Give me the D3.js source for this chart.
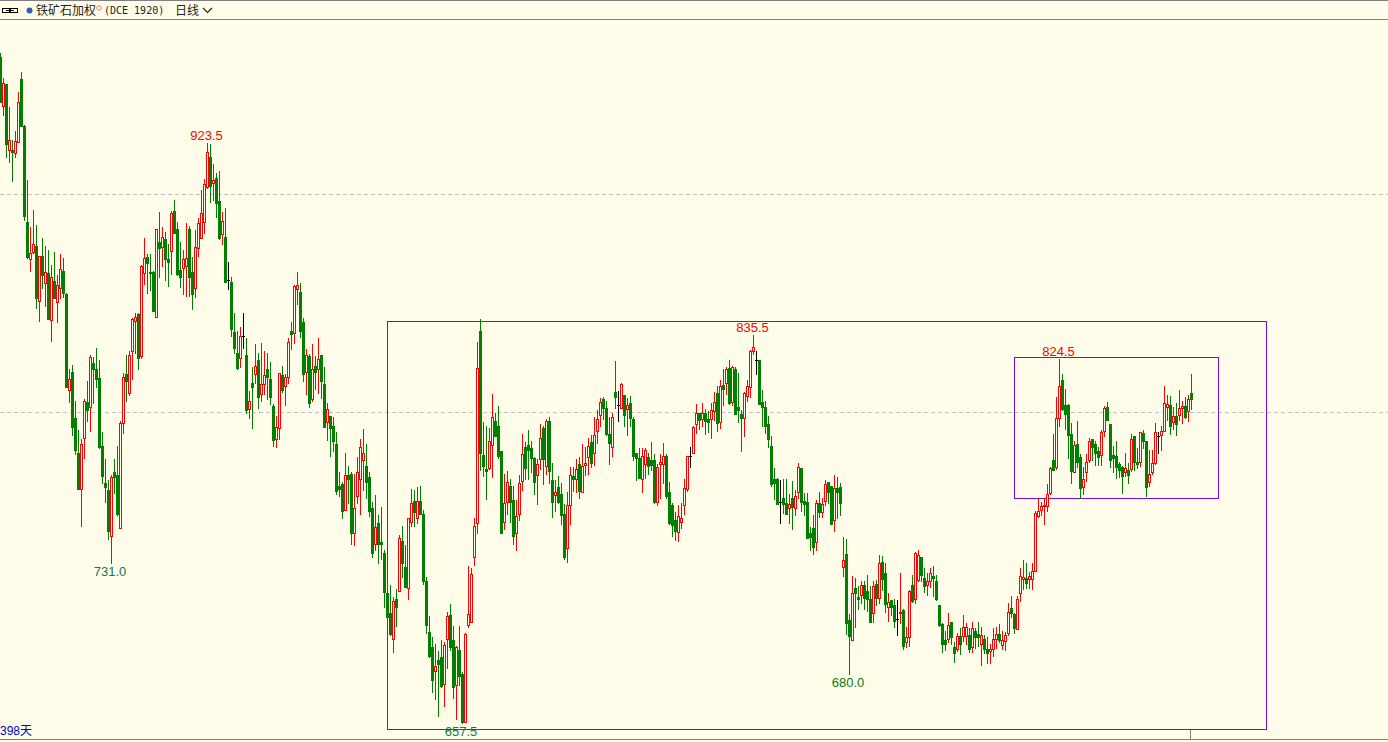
<!DOCTYPE html>
<html>
<head>
<meta charset="utf-8">
<title>铁矿石加权</title>
<script src="https://cdn.jsdelivr.net/npm/d3@7/dist/d3.min.js"></script>
<style>
html, body { margin: 0; padding: 0; background: #fffde9; overflow: hidden; }
svg { display: block; }
</style>
</head>
<body>
<div id="chart"></div>
<script>
// daily bars (10 per row)
const opens = [
963,940.5,950.5,920.5,920.5,919,924,953,931.5,887.5,
870.5,873.5,876.5,851,872,859.5,864,842.5,860.5,850.5,
857,865,854.5,810.5,818.5,797.5,781.5,765,788.5,805,
802.5,822.5,820,816,784.5,767.5,764.5,743.5,772.5,771.5,
747,795,817.5,809,828,842,845,826,864,871.5,
864.5,864.5,844,878,876,879.5,870.5,874,892.5,884,
865.5,866.5,867,884,864.5,857,875.5,880,887.5,903.5,
917,905.5,907.5,897,882,880.5,861,860,837,827.5,
825,835,826.5,801.5,813.5,817.5,824,808.5,813,820,
815.5,803,788,793,817,812,816.5,837.5,836.5,856.5,
855.5,841.5,818.5,826,806,821.5,820,826.5,813,795.5,
798.5,794,785.5,766.5,767,755.5,771.5,772,744.5,761.5,
769.5,778,775.5,770.5,756,739.5,749.5,740.5,735.5,717,
708,696,714.5,718,741,729,719.5,750,759.5,751.5,
759.5,753.5,722.5,699.5,692.5,681.5,686.5,688,675.5,696,
707,695.5,675,691,680,658,702.5,704,733.5,749.5,
837.5,780.5,774,774.5,785,796,794,782.5,750,759,
766.5,760,744.5,753.5,768.5,784,785,783.5,779,771.5,
778.5,793,775.5,796,769,762,766,762.5,753.5,738,
757.5,771,769.5,776.5,763.5,776,779.5,786.5,781.5,791.5,
799,806,802,790,784,809.5,803.5,802,808,801.5,
804.5,797,781.5,779,769.5,776.5,779.5,778,778,759,
776.5,776.5,780,763.5,757.5,750.5,745,750,757.5,765,
780,781.5,794.5,800,797,800,797,797,800.5,809,
795.5,812.5,813.5,820.5,805,820,802.5,799.5,797.5,807.5,
811.5,828,824,824,805,802.5,794.5,784.5,769.5,769.5,
759,761,758.5,756,761,756,763.5,774.5,759.5,759,
744.5,747,740.5,758.5,754.5,759.5,768,766.5,750.5,765.5,
766,729,735,705,695.5,719.5,715.5,716.5,721,718,
714.5,708,721.5,715,731.5,726.5,711,714,711.5,705.5,
708,709.5,694.5,697,721,714.5,723,733.5,724,721,
722.5,725,722.5,711.5,703,695.5,696,704,692.5,691.5,
697.5,697.5,697.5,698,692.5,700,698.5,694,696,691.5,
690.5,691.5,696,698.5,693.5,695,699,710.5,707.5,700.5,
717,723.5,724,723.5,723.5,727.5,752.5,755.5,757,757,
763,778,775,797.5,815,803.5,803.5,790,772.5,785.5,
779.5,766,772.5,778,788,785.5,782.5,780.5,791.5,802.5,
794.5,780.5,780,776.5,775,772.5,773.5,774,789,777.5,
777.5,790.5,787,768,772.5,777,789,789.5,791.5,802.5,
803.5,795.5,798.5,799,802,803,800.5,809
];
const highs = [
965,953.5,950.5,940,925,929,947,956,932,906.5,
885,893,886,872,880,876.5,874.5,867.5,873.5,863,
872.5,871,855,820,822,805.5,792,788,806,814.5,
826.5,825.5,829.5,824,791,778.5,769,771.5,778.5,784.5,
796,818,826.5,828,843.5,845.5,845.5,867.5,880,872.5,
872.5,865,884,892,885,883,877.5,892.5,897.5,887.5,
878,874.5,887,885.5,871.5,883.5,889,902,907,923.5,
923,914,910,911,892,894,869,862,845.5,837.5,
839,845.5,834,810,821,831.5,827.5,832,828,827.5,
823,804,798.5,818,821.5,817.5,834,841.5,858.5,864.5,
859.5,843.5,829,827,831.5,826,834,826.5,821,804.5,
798.5,798,791,772.5,768,781.5,775.5,772.5,772,779.5,
788,792.5,785.5,772.5,759,762,753,756.5,737,721,
721,715.5,719,744,748,739,751.5,765,764.5,766,
766.5,755.5,724.5,706.5,697,694,690.5,695.5,694.5,708.5,
712,702,693,702,681,699,729.5,728.5,751.5,832.5,
843,795.5,794,793,808.5,800,803,782.5,772,773,
769.5,766.5,760,771.5,790,786.5,792,787,779.5,778.5,
794.5,794,797,798,777,769,771,767.5,758,763.5,
775,775,778.5,779.5,785.5,784,788.5,789.5,798,801,
806.5,807,805.5,798,800,823.5,810,813.5,808,806.5,
807.5,798,781.5,783.5,783.5,783.5,781.5,786.5,781,776.5,
781,786,781,768,758.5,754.5,757.5,758.5,769.5,780,
784,794,804,800,804.5,801.5,800.5,804.5,809.5,812,
815,820,821,824,821.5,821,818,801,809.5,815,
828.5,835.5,828,824,810.5,805.5,798.5,789,774.5,770,
769,769.5,769.5,762.5,768.5,764.5,777,774.5,763,763,
747.5,753,760,763.5,761,769,768,766.5,771.5,770.5,
767.5,743,742,707.5,725,724,720.5,722.5,722.5,725.5,
720.5,722.5,723,734.5,734,731,717,714,714.5,714,
726.5,710,701.5,718.5,725.5,736,737,733.5,728.5,726.5,
728.5,729.5,725.5,711.5,703.5,700,708,704,694.5,699,
701,707,703.5,701,704,701,704,701.5,698,697,
694,701,701.5,703,700,699.5,712.5,716,708,716,
728.5,732.5,731,727,731,755,761,759,761,767,
775,790,807,824.5,817.5,811,804,795,787,796,
781,775,781,788.5,788,787,784,792,803,805,
794.5,784.5,787,777.5,775.5,781.5,777,790,789,783.5,
791,792,787,783,783,795,791,794,812,808,
807.5,802.5,804.5,810.5,805.5,807,808,817.5
];
const lows = [
942.5,936.5,917,915,906,917,924,931.5,888.5,871,
865,873,848,842,857,849,843,833,852.5,841.5,
852.5,853,811.5,805,789.5,781,765,748,779,796,
791.5,804.5,811.5,783.5,767.5,759,742,731,763,753,
747,790.5,805.5,808,815.5,827.5,820,825,859,855,
856,846.5,844,862,867,861,858,863.5,882.5,863,
857.5,854.5,853.5,853.5,847.5,853,872,880,882.5,903,
896.5,897.5,889.5,879.5,877.5,860,856.5,835,827.5,820,
821,829.5,800,797.5,793,813.5,802,805.5,808.5,806,
804,784.5,784,788,809.5,803.5,813.5,829,832,850,
834.5,814.5,808.5,802.5,805.5,811,809,806.5,793.5,787.5,
780,782.5,762.5,761.5,751.5,755.5,758.5,739.5,739,758.5,
753.5,764.5,761,752.5,733.5,737,731,733,711,702.5,
698,690,702,718,724.5,720,714.5,748,748,749.5,
753.5,721.5,699,688,672,668.5,661,674,665.5,683,
691,669,659.5,675,657.5,658,701.5,704,730,744.5,
773.5,771,760.5,774,770.5,789,779,744.5,746.5,753.5,
750,739.5,737,750.5,764.5,769.5,769.5,772.5,762.5,758,
774,767,772,767.5,752,755,758.5,749,733,731.5,
749,764,763.5,761,763.5,771.5,772,775,776,786,
794,797,789.5,776.5,780,802,796,802,794,789.5,
794,778,769,770,763.5,770,772,773.5,758.5,757.5,
761,767.5,761,749,743.5,741.5,741,747,753.5,764,
775,781.5,790.5,792.5,794,790,791,788.5,796.5,791.5,
793,803.5,808.5,804,803.5,799.5,795.5,782.5,789,805.5,
807,827,817.5,804,794,790.5,784,766.5,760.5,758,
749.5,754,753.5,749.5,746.5,753,761,755,753,742.5,
737,735,737,752,752,757.5,758.5,749,745.5,751.5,
753,725,698.5,680,695.5,701.5,710,712.5,710,709,
704,704,711.5,712.5,718.5,708.5,704.5,707,701.5,698,
703.5,691.5,692.5,693,713,712.5,722.5,722.5,717.5,716.5,
720,716,714,702,690,691,694.5,694,685.5,690.5,
689,695,694,690,690,692,693,684,689.5,685,
685,688.5,692,694.5,691.5,691,698,706,699,700.5,
713.5,719,719.5,719.5,719,727.5,752,753,749,755,
762.5,773.5,774,794,801,792.5,779,767.5,772.5,775,
761,762.5,768.5,777.5,778,776,776,776,789,796.5,
775,772.5,770,770.5,763,771,767.5,773,773.5,774.5,
775.5,783.5,761.5,766.5,772,776.5,781.5,783,791.5,796.5,
790,792.5,789.5,796.5,795,797.5,796,801.5
];
const closes = [
942.5,951,923,925,919.5,924.5,942.5,931.5,890,871.5,
873,877.5,852.5,872,863,864.5,843,862,852.5,858.5,
866,855,811.5,815.5,793.5,783,765,785.5,805.5,801,
825.5,820,815.5,784,771,766,745.5,770.5,770.5,753.5,
795,816.5,814.5,826.5,843,844,825,867,871,868.5,
864,846.5,884,875.5,880.5,870.5,869,891.5,882.5,863.5,
862,870.5,871,862,854.5,876,887,891.5,905,919.5,
904,906.5,896,880,888,860,861,838.5,829.5,820.5,
835,835,801,805.5,811.5,821.5,807,813,817,816.5,
807,787.5,793.5,818,810.5,816.5,832.5,836,858,858.5,
837.5,817.5,826.5,804.5,820,818.5,824.5,814.5,793.5,801.5,
793,787,764,765,755,771.5,769.5,744.5,756,772.5,
784,781.5,768,755,735.5,747.5,739.5,739.5,717.5,706,
698.5,713.5,711,742.5,731,720,751.5,758.5,754.5,759.5,
753.5,722.5,702.5,688.5,677.5,683.5,684.5,674.5,693.5,706.5,
692.5,674,692.5,679,658,698.5,707.5,726,748,820.5,
781.5,775.5,773,787,798,789,780,744.5,758.5,768,
759,743.5,752.5,767.5,781,774.5,783,779,768,776.5,
788.5,778.5,796,773,759,763.5,759,753,733.5,757.5,
771.5,769.5,774,764,775.5,777,784.5,777,789.5,797,
805,802,790,786,798,807,803.5,813,799,803.5,
797.5,780,779,770,780,783,775.5,776,759,775,
777.5,780,761.5,749.5,748.5,745.5,752.5,751.5,765.5,780,
780,793.5,800,796.5,800,796,795.5,801,805,795,
812,811,820,804.5,821,799.5,801,797.5,809,812,
828,830,824,804,802.5,794,788,767,767.5,758,
759,758,753.5,758,756.5,761.5,775,759,758,742.5,
743,738.5,758.5,754.5,758,767,763.5,749,765.5,763.5,
758.5,732.5,703.5,697.5,717,717,714.5,721,715,714.5,
704,720.5,715,731,723.5,712,713,711,704.5,705.5,
708.5,693,697,718,713.5,735.5,734.5,725.5,720.5,722.5,
726.5,724,714.5,702.5,694,694,702.5,697,689.5,697.5,
694,701.5,701.5,691.5,701,697,697,698,691.5,689.5,
691.5,696,698.5,695.5,695.5,698,708.5,708,701,714.5,
725,724.5,722,725,727.5,754,755,757,757.5,762.5,
774.5,773.5,797.5,812,801.5,799.5,789.5,773,785,777.5,
765.5,769.5,777.5,787,784,781.5,779.5,791,802,796.5,
778,779,775,773.5,771,774.5,771.5,788,777.5,776.5,
791,787,766,772,777,791,789,791.5,804.5,804,
794,798.5,794.5,802,803,798,806,806
];

const gridPrices = [900, 800];

// extreme labels: bar index, price shown, colour
const peakBars = [69, 154, 37, 251, 283, 353];
const peakTexts = ["923.5", "657.5", "731.0", "835.5", "680.0", "824.5"];
const peakColors = ["#ff0000", "#0f7a5a", "#0f7a5a", "#ff0000", "#0a7a14", "#ff0000"];
const peakAbove = [true, false, false, true, false, true];

// the two drawn boxes: from bar, to bar, top price, bottom price
const boxFrom = [129, 338];
const boxTo = [422, 406];
const boxTop = [842, 825.5];
const boxBottom = [655, 761];

const width = 1388;
const height = 742;
const bg = "#fffde9";
const red = "#ff0000";
const green = "#007f00";

const svg = d3.select("#chart").append("svg").attr("width", width).attr("height", height);
const x = d3.scaleLinear().domain([0, opens.length - 1]).range([0.5, 1191.5]);
const y = d3.scaleLinear().domain([800, 900]).range([412.5, 194.5]);
const py = v => Math.round(y(v)) + 0.5;

function renderGrid() {
    svg.append("g").selectAll("line").data(gridPrices).enter().append("line")
        .attr("x1", 0).attr("x2", width)
        .attr("y1", d => Math.floor(y(d)) + 0.5).attr("y2", d => Math.floor(y(d)) + 0.5)
        .attr("stroke", "#c0c0c0").attr("stroke-dasharray", "4,3");
}

function renderBoxes() {
    svg.append("g").selectAll("rect").data(d3.range(boxFrom.length)).enter().append("rect")
        .attr("x", i => x(boxFrom[i]))
        .attr("width", i => x(boxTo[i]) - x(boxFrom[i]))
        .attr("y", i => py(boxTop[i]))
        .attr("height", i => py(boxBottom[i]) - py(boxTop[i]))
        .attr("fill", "none").attr("stroke", "#7a0ae0").attr("shape-rendering", "crispEdges");
}

function barColor(i) {
    if (opens[i] === closes[i]) return "#000000";
    return closes[i] > opens[i] ? red : green;
}

function renderBars() {
    const bars = svg.append("g").attr("shape-rendering", "crispEdges")
        .selectAll("g").data(d3.range(opens.length)).enter().append("g");

    bars.append("line")
        .attr("x1", i => x(i)).attr("x2", i => x(i))
        .attr("y1", i => py(highs[i]) - 0.5).attr("y2", i => py(lows[i]) + 0.5)
        .attr("stroke", barColor);

    // rising bars are hollow, falling ones solid, flat ones a small cross
    bars.filter(i => closes[i] > opens[i]).append("rect")
        .attr("x", i => x(i) - 1).attr("width", 2)
        .attr("y", i => py(closes[i]))
        .attr("height", i => Math.max(1, py(opens[i]) - py(closes[i])))
        .attr("fill", bg).attr("stroke", red);

    bars.filter(i => closes[i] < opens[i]).append("rect")
        .attr("x", i => x(i) - 1.5).attr("width", 3)
        .attr("y", i => py(opens[i]) - 0.5)
        .attr("height", i => Math.max(2, py(closes[i]) - py(opens[i]) + 1))
        .attr("fill", green);

    bars.filter(i => closes[i] === opens[i]).append("line")
        .attr("x1", i => x(i) - 1.5).attr("x2", i => x(i) + 1.5)
        .attr("y1", i => py(opens[i])).attr("y2", i => py(opens[i]))
        .attr("stroke", "#000000");
}

function renderLabels() {
    svg.append("g").selectAll("text").data(d3.range(peakBars.length)).enter().append("text")
        .attr("x", i => x(peakBars[i]) - (peakAbove[i] ? 1 : 1.5))
        .attr("y", i => peakAbove[i] ? y(+peakTexts[i]) - 3 : y(+peakTexts[i]) + 13)
        .attr("text-anchor", "middle")
        .attr("font-family", "'Liberation Sans', sans-serif").attr("font-size", 13)
        .attr("fill", i => peakColors[i])
        .text(i => peakTexts[i]);

    svg.append("text").attr("x", 0).attr("y", 735)
        .attr("font-family", "'Liberation Sans', 'Noto Sans CJK SC', sans-serif").attr("font-size", 12)
        .attr("fill", "#0000c8").text("398天");
}

function renderFrame() {
    const frame = svg.append("g").attr("stroke", "#808080").attr("shape-rendering", "crispEdges");
    frame.append("line").attr("x1", 0).attr("x2", width).attr("y1", 0.5).attr("y2", 0.5);
    frame.append("line").attr("x1", 0).attr("x2", width).attr("y1", 19.5).attr("y2", 19.5);
    frame.append("line").attr("x1", 0).attr("x2", width).attr("y1", 739.5).attr("y2", 739.5);
    frame.append("line").attr("x1", 1190.5).attr("x2", 1190.5).attr("y1", 730).attr("y2", 739);
}

function renderHeader() {
    const head = svg.append("g");
    // link icon
    head.append("rect").attr("x", 2.5).attr("y", 8.5).attr("width", 7).attr("height", 4)
        .attr("fill", "none").attr("stroke", "#000").attr("shape-rendering", "crispEdges");
    head.append("rect").attr("x", 10.5).attr("y", 8.5).attr("width", 7).attr("height", 4)
        .attr("fill", "none").attr("stroke", "#000").attr("shape-rendering", "crispEdges");
    head.append("line").attr("x1", 6).attr("x2", 14).attr("y1", 10.5).attr("y2", 10.5)
        .attr("stroke", "#000").attr("shape-rendering", "crispEdges");
    head.append("circle").attr("cx", 29.5).attr("cy", 10.5).attr("r", 3).attr("fill", "#2f5fb0");
    head.append("text").attr("x", 36).attr("y", 15)
        .attr("font-family", "'Noto Sans CJK SC', sans-serif").attr("font-size", 12)
        .attr("fill", "#222").text("铁矿石加权");
    head.append("circle").attr("cx", 99).attr("cy", 8).attr("r", 2.2)
        .attr("fill", "none").attr("stroke", "#f08050");
    head.append("text").attr("x", 104).attr("y", 14)
        .attr("font-family", "'DejaVu Sans Mono', monospace").attr("font-size", 10)
        .attr("fill", "#222").text("(DCE 1920)");
    head.append("text").attr("x", 175).attr("y", 15)
        .attr("font-family", "'Noto Sans CJK SC', sans-serif").attr("font-size", 12)
        .attr("fill", "#222").text("日线");
    head.append("path").attr("d", "M203 8 L207.5 12.5 L212 8")
        .attr("fill", "none").attr("stroke", "#222").attr("stroke-width", 1.2);
}

renderGrid();
renderBoxes();
renderBars();
renderLabels();
renderFrame();
renderHeader();
</script>
</body>
</html>
